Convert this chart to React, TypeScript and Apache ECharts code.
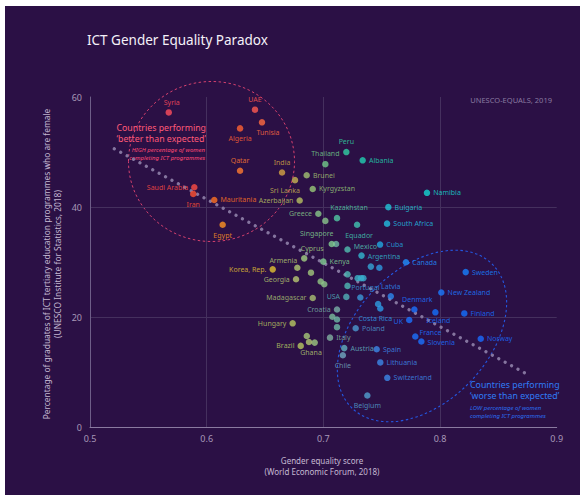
import React, { useEffect, useRef } from "react";
import * as echarts from "echarts";

// ---- Data ----
const countries = [
  "Syria", "UAE", "Tunisia", "Algeria", "Qatar", "India", "Sri Lanka", "Brunei", "Kyrgyzstan", "Azerbaijan",
  "Thailand", "Peru", "Albania", "Namibia", "Saudi Arabia", "Iran", "Mauritania", "Egypt", "Greece", "Kazakhstan",
  "Bulgaria", "South Africa", "Equador", "Singapore", "Mexico", "Cuba", "Argentina", "Cyprus", "Kenya", "Armenia",
  "Korea, Rep.", "Canada", "Georgia", "Sweden", "Madagascar", "USA", "Portugal", "Latvia", "New Zealand", "Costa Rica",
  "Denmark", "Iceland", "Finland", "UK", "Croatia", "Hungary", "Poland", "Italy", "France", "Slovenia",
  "Norway", "Ghana", "Brazil", "Austria", "Spain", "Chile", "Lithuania", "Switzerland", "Belgium",
];
const equalityScore = [
  0.5675, 0.6414, 0.6474, 0.6286, 0.6286, 0.6646, 0.6757, 0.6857, 0.6909, 0.6797,
  0.7017, 0.7197, 0.7337, 0.7888, 0.5894, 0.5885, 0.6065, 0.6137, 0.6957, 0.7117,
  0.7557, 0.7546, 0.7289, 0.7072, 0.7207, 0.7486, 0.7327, 0.6836, 0.7, 0.6777,
  0.6566, 0.7708, 0.6766, 0.822, 0.6909, 0.7197, 0.7317, 0.7578, 0.8011, 0.7488,
  0.778, 0.796, 0.8208, 0.7736, 0.7117, 0.6737, 0.7277, 0.7057, 0.7788, 0.784,
  0.8349, 0.6877, 0.6806, 0.7179, 0.7457, 0.7167, 0.7488, 0.7548, 0.7377,
];
const ictFemaleShare = [
  57.2, 57.7, 55.4, 54.3, 46.6, 46.3, 44.9, 45.8, 43.3, 41.2,
  47.8, 50.0, 48.5, 42.6, 43.6, 42.4, 41.3, 36.8, 38.8, 38.0,
  40.0, 37.0, 36.8, 33.3, 32.3, 33.2, 31.2, 30.7, 30.1, 29.0,
  28.7, 30.0, 26.9, 28.2, 23.5, 23.7, 23.6, 23.8, 24.5, 21.6,
  21.4, 20.9, 20.7, 19.5, 21.4, 18.9, 18.0, 16.3, 16.5, 15.6,
  16.1, 15.5, 14.8, 14.4, 14.2, 13.1, 11.8, 9.0, 5.8,
];
// unlabeled countries
const otherScore = [
  0.7017, 0.7109, 0.6894, 0.6977, 0.7008, 0.7207, 0.7207, 0.7294, 0.7323, 0.7343,
  0.7407, 0.748, 0.7469, 0.7077, 0.7117, 0.7117, 0.6858, 0.6926,
];
const otherShare = [
  37.5, 33.3, 28.1, 26.5, 26.0, 27.8, 25.7, 27.1, 27.1, 27.1,
  29.2, 29.0, 22.4, 20.1, 19.6, 18.2, 16.6, 15.4,
];
const trendScore = [0.5208, 0.8743];
const trendShare = [50.6, 9.7];
const xTicks = [0.5, 0.6, 0.7, 0.8, 0.9];
const yTicks = [0, 20, 40, 60];

// ---- Styles ----
const dotColor: Record<string, string> = {
  "Syria": "#ff4d5c", "UAE": "#ff5a50", "Tunisia": "#ff6a40", "Algeria": "#ff6232", "Qatar": "#ff7a30",
  "India": "#d4a444", "Sri Lanka": "#c8b452", "Brunei": "#a4c272", "Kyrgyzstan": "#98c878", "Azerbaijan": "#b8c062",
  "Thailand": "#72c98a", "Peru": "#32d0a2", "Albania": "#22d0b2", "Namibia": "#14d6d0", "Saudi Arabia": "#ff4c42",
  "Iran": "#ff5232", "Mauritania": "#ff7222", "Egypt": "#ff9222", "Greece": "#8ac88a", "Kazakhstan": "#52c8a2",
  "Bulgaria": "#22c6d8", "South Africa": "#22bee0", "Equador": "#42c6b2", "Singapore": "#82cf92", "Mexico": "#52c0b2",
  "Cuba": "#22a8e0", "Argentina": "#32b8d0", "Cyprus": "#a2cf82", "Kenya": "#82cf92", "Armenia": "#b2c872",
  "Korea, Rep.": "#e2c232", "Canada": "#2090ff", "Georgia": "#b8c872", "Sweden": "#1680ff", "Madagascar": "#aac072",
  "USA": "#52b0b8", "Portugal": "#3c9ad8", "Latvia": "#2c88f0", "New Zealand": "#1c7aff", "Costa Rica": "#2c9ae8",
  "Denmark": "#1c72ff", "Iceland": "#1470ff", "Finland": "#1470ff", "UK": "#1c72ff", "Croatia": "#7ab0a8",
  "Hungary": "#b8c862", "Poland": "#4c98d0", "Italy": "#82b0a0", "France": "#1c72ff", "Slovenia": "#1c72ff",
  "Norway": "#1a6cff", "Ghana": "#b2c872", "Brazil": "#b8c862", "Austria": "#62b0c0", "Spain": "#3c88e8",
  "Chile": "#72a8c0", "Lithuania": "#3c88e8", "Switzerland": "#3c88e8", "Belgium": "#52a0d0",
};
const labelPlace: Record<string, [string, number, number]> = {
  "Syria": ["top", 3, 0], "UAE": ["top", 0, 0], "Tunisia": ["bottom", 6, 0], "Algeria": ["bottom", 0, 0],
  "Qatar": ["top", 0, 0], "India": ["top", 0, 0], "Sri Lanka": ["bottom", -10, 0], "Brunei": ["right", 0, 0],
  "Kyrgyzstan": ["right", 0, 0], "Azerbaijan": ["left", 0, 0], "Thailand": ["top", 0, 0], "Peru": ["top", 0, 0],
  "Albania": ["right", 0, 0], "Namibia": ["right", 0, 0], "Saudi Arabia": ["left", 0, 0], "Iran": ["bottom", 0, 0],
  "Mauritania": ["right", 0, 0], "Egypt": ["bottom", 0, 0], "Greece": ["left", 0, 0], "Kazakhstan": ["top", 12, 0],
  "Bulgaria": ["right", 0, 0], "South Africa": ["right", 0, 0], "Equador": ["bottom", 2, 0], "Singapore": ["top", -15, 0],
  "Mexico": ["right", 0, -3], "Cuba": ["right", 0, 0], "Argentina": ["right", 0, 1], "Cyprus": ["top", 8, 0],
  "Kenya": ["right", 0, 0], "Armenia": ["top", -14, 3], "Korea, Rep.": ["left", 0, 0], "Canada": ["right", 0, 0],
  "Georgia": ["left", 0, 0], "Sweden": ["right", 0, 0], "Madagascar": ["left", 0, 0], "USA": ["left", 0, 0],
  "Portugal": ["top", 5, 0], "Latvia": ["top", 0, 0], "New Zealand": ["right", 0, 0], "Costa Rica": ["bottom", -5, 0],
  "Denmark": ["top", 3, 0], "Iceland": ["bottom", 3, -2], "Finland": ["right", 0, 0], "UK": ["left", 0, 1],
  "Croatia": ["left", 0, 0], "Hungary": ["left", 0, 0], "Poland": ["right", 0, 0], "Italy": ["right", 0, 0],
  "France": ["right", -2, -4], "Slovenia": ["right", 0, 1], "Norway": ["right", 0, 0], "Ghana": ["bottom", 2, 0],
  "Brazil": ["left", 0, 0], "Austria": ["right", 0, 0], "Spain": ["right", 0, 0], "Chile": ["bottom", 0, 0],
  "Lithuania": ["right", 0, 0], "Switzerland": ["right", 0, 0], "Belgium": ["bottom", 0, 0],
};
const otherStops: [number, string][] = [
  [0.686, "#a8c878"], [0.70, "#90c888"], [0.71, "#74b8a2"], [0.72, "#52bcb4"], [0.73, "#3cb4c8"], [0.748, "#2e9ae0"],
];

function hexToRgb(h: string) {
  const n = parseInt(h.slice(1), 16);
  return [(n >> 16) & 255, (n >> 8) & 255, n & 255];
}
function gradientColor(x: number) {
  if (x <= otherStops[0][0]) return otherStops[0][1];
  for (let i = 1; i < otherStops.length; i++) {
    if (x <= otherStops[i][0]) {
      const [x0, c0] = otherStops[i - 1];
      const [x1, c1] = otherStops[i];
      const t = (x - x0) / (x1 - x0);
      const a = hexToRgb(c0), b = hexToRgb(c1);
      const m = a.map((v, k) => Math.round(v + (b[k] - v) * t));
      return `rgb(${m[0]},${m[1]},${m[2]})`;
    }
  }
  return otherStops[otherStops.length - 1][1];
}

const FONT = "'Noto Sans', 'DejaVu Sans', sans-serif";

export default function App() {
  const ref = useRef<HTMLDivElement>(null);
  useEffect(() => {
    if (!ref.current) return;
    const chart = echarts.init(ref.current, null, { renderer: "svg" });

    const labeled = countries.map((name, i) => {
      const [pos, dx, dy] = labelPlace[name] || ["right", 0, 0];
      const c = dotColor[name];
      return {
        name,
        value: [equalityScore[i], ictFemaleShare[i]],
        itemStyle: { color: c },
        label: {
          show: true,
          position: pos,
          offset: [dx, dy],
          distance: 3,
          color: c,
          opacity: 0.85,
          fontSize: 7,
          lineHeight: 8,
          fontFamily: FONT,
          formatter: "{b}",
        },
      };
    });
    const others = otherScore.map((x, i) => ({
      name: "",
      value: [x, otherShare[i]],
      itemStyle: { color: gradientColor(x) },
      label: { show: false },
    }));

    const option: any = {
      animation: false,
      backgroundColor: "transparent",
      grid: { left: 90, right: 23.3, top: 97, bottom: 67.6, containLabel: false },
      xAxis: {
        type: "value",
        min: xTicks[0],
        max: xTicks[xTicks.length - 1],
        interval: 0.1,
        axisLine: { show: true, lineStyle: { color: "#8a7aa0", width: 1 } },
        axisTick: { show: false },
        axisLabel: {
          color: "#a898b8",
          fontSize: 9,
          fontFamily: FONT,
          margin: 7,
          formatter: (v: number) => v.toFixed(1),
        },
        splitLine: { show: true, showMaxLine: false, lineStyle: { color: "#45305e", width: 1 } },
      },
      yAxis: {
        type: "value",
        min: yTicks[0],
        max: yTicks[yTicks.length - 1],
        interval: 20,
        axisLine: { show: true, lineStyle: { color: "#6e5e88", width: 1 } },
        axisTick: { show: false },
        axisLabel: { color: "#a898b8", fontSize: 9, fontFamily: FONT, margin: 8 },
        splitLine: { show: true, showMaxLine: false, lineStyle: { color: "#45305e", width: 1 } },
      },
      series: [
        {
          type: "line",
          data: trendScore.map((x, i) => [x, trendShare[i]]),
          showSymbol: false,
          symbol: "none",
          silent: true,
          z: 1,
          lineStyle: { color: "#85759f", width: 3.2, type: [0.1, 7.2], cap: "round" },
        },
        {
          type: "scatter",
          symbolSize: 6.5,
          z: 3,
          data: [...others, ...labeled],
        },
      ],
      graphic: [
        {
          type: "text", x: 87, y: 40,
          style: { text: "ICT Gender Equality Paradox", fill: "#f4f0f8", font: `13.5px ${FONT}`, verticalAlign: "middle" },
        },
        {
          type: "text", x: 552, y: 100,
          style: { text: "UNESCO-EQUALS, 2019", fill: "#8a7aa0", font: `7.5px ${FONT}`, align: "right", verticalAlign: "middle" },
        },
        {
          type: "ellipse",
          shape: { cx: 211.5, cy: 161.5, rx: 83, ry: 80 },
          style: { fill: "none", stroke: "#d4406e", lineWidth: 1, lineDash: [2.5, 2.5] },
          silent: true,
        },
        {
          type: "ellipse",
          x: 422, y: 336, rotation: (46 * Math.PI) / 180,
          shape: { cx: 0, cy: 0, rx: 100.5, ry: 66.5 },
          style: { fill: "none", stroke: "#2456e0", lineWidth: 1.1, lineDash: [2.5, 2.5] },
          silent: true,
        },
        {
          type: "text", x: 206, y: 127.5,
          style: { text: "Countries performing", fill: "#ff5a78", font: `8.8px ${FONT}`, align: "right", verticalAlign: "middle" },
        },
        {
          type: "text", x: 206, y: 138.5,
          style: { text: "\u2018better than expected\u2019", fill: "#ff5a78", font: `8.8px ${FONT}`, align: "right", verticalAlign: "middle" },
        },
        {
          type: "text", x: 205, y: 150,
          style: { text: "HIGH percentage of women", fill: "#ff4a74", font: `italic 6px ${FONT}`, align: "right", verticalAlign: "middle" },
        },
        {
          type: "text", x: 205, y: 157.5,
          style: { text: "completing ICT programmes", fill: "#ff4a74", font: `italic 6px ${FONT}`, align: "right", verticalAlign: "middle" },
        },
        {
          type: "text", x: 470, y: 384.5,
          style: { text: "Countries performing", fill: "#2f7cf6", font: `8.8px ${FONT}`, verticalAlign: "middle" },
        },
        {
          type: "text", x: 470, y: 395.5,
          style: { text: "\u2018worse than expected\u2019", fill: "#2f7cf6", font: `8.8px ${FONT}`, verticalAlign: "middle" },
        },
        {
          type: "text", x: 470, y: 408,
          style: { text: "LOW percentage of women", fill: "#2a6ef0", font: `italic 6px ${FONT}`, verticalAlign: "middle" },
        },
        {
          type: "text", x: 470, y: 415.5,
          style: { text: "completing ICT programmes", fill: "#2a6ef0", font: `italic 6px ${FONT}`, verticalAlign: "middle" },
        },
        {
          type: "text", x: 322, y: 466,
          style: {
            text: "Gender equality score\n(World Economic Forum, 2018)",
            fill: "#c4b8d2", font: `8px ${FONT}`, align: "center", verticalAlign: "middle", lineHeight: 11,
          },
        },
        {
          type: "text", x: 52, y: 264, rotation: Math.PI / 2,
          style: {
            text: "Percentage of graduates of ICT tertiary education programmes who are female\n(UNESCO Institute for Statistics, 2018)",
            fill: "#c4b8d2", font: `8.4px ${FONT}`, align: "center", verticalAlign: "middle", lineHeight: 10.5,
          },
        },
      ],
    };
    chart.setOption(option);
    return () => chart.dispose();
  }, []);

  return (
    <div style={{ position: "fixed", left: 0, top: 0, width: 580, height: 495, background: "#ffffff" }}>
      <div style={{ position: "absolute", left: 5, top: 6, width: 575, height: 489, background: "#2b1045" }} />
      <div ref={ref} style={{ position: "absolute", left: 0, top: 0, width: 580, height: 495 }} />
    </div>
  );
}
